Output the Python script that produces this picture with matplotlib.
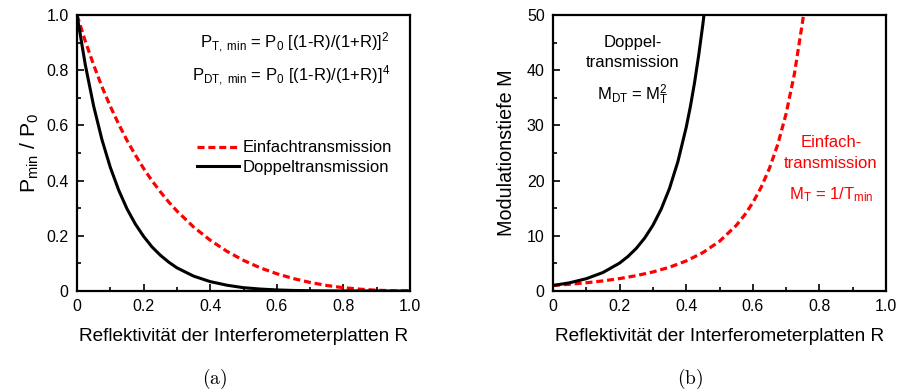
import numpy as np
import matplotlib
matplotlib.use("Agg")
from matplotlib import pyplot as plt
from matplotlib.ticker import MultipleLocator, FixedFormatter, FixedLocator

plt.rcParams['font.family'] = 'Liberation Sans'
plt.rcParams['mathtext.fontset'] = 'custom'
plt.rcParams['mathtext.rm'] = 'Liberation Sans'
plt.rcParams['mathtext.it'] = 'Liberation Sans'
plt.rcParams['mathtext.bf'] = 'Liberation Sans:bold'

# panel (a): normalised minimum power vs reflectivity
r_a = [0, 0.025, 0.05, 0.075, 0.1, 0.125, 0.15, 0.175, 0.2, 0.225, 0.25, 0.275,
       0.3, 0.35, 0.4, 0.45, 0.5, 0.55, 0.6, 0.65, 0.7, 0.75, 0.8, 0.85, 0.9, 0.95, 1.0]
p_single = [1.0, 0.905, 0.819, 0.740, 0.669, 0.605, 0.546, 0.493, 0.444, 0.400, 0.360, 0.323,
            0.290, 0.232, 0.184, 0.144, 0.111, 0.084, 0.0625, 0.045, 0.031, 0.020, 0.012, 0.0066,
            0.0028, 0.0007, 0.0]
p_double = [1.0, 0.819, 0.670, 0.548, 0.448, 0.366, 0.298, 0.243, 0.198, 0.160, 0.130, 0.105,
            0.084, 0.054, 0.034, 0.021, 0.012, 0.0071, 0.0039, 0.002, 0.001, 0.0004, 0.0002, 0.0,
            0.0, 0.0, 0.0]

# panel (b): modulation depth vs reflectivity
r_single = [0, 0.05, 0.1, 0.15, 0.2, 0.25, 0.3, 0.35, 0.4, 0.45, 0.5, 0.55, 0.575,
            0.6, 0.625, 0.65, 0.675, 0.7, 0.725, 0.75, 0.76]
m_single = [1.0, 1.22, 1.49, 1.83, 2.25, 2.78, 3.45, 4.31, 5.44, 6.95, 9.0, 11.86, 13.73,
            16.0, 18.78, 22.22, 26.56, 32.11, 39.35, 49.0, 53.78]
r_double = [0, 0.05, 0.1, 0.15, 0.2, 0.225, 0.25, 0.275, 0.3, 0.325, 0.35, 0.375, 0.4,
            0.4125, 0.425, 0.4375, 0.45, 0.46]
m_double = [1.0, 1.49, 2.23, 3.35, 5.06, 6.25, 7.72, 9.57, 11.90, 14.85, 18.61, 23.43, 29.64,
            33.4, 37.72, 42.7, 48.30, 53.44]

x_ticks = [0, 0.2, 0.4, 0.6, 0.8, 1.0]
x_ticklabels = ['0', '0.2', '0.4', '0.6', '0.8', '1.0']
ya_ticks = [0, 0.2, 0.4, 0.6, 0.8, 1.0]
ya_ticklabels = ['0', '0.2', '0.4', '0.6', '0.8', '1.0']
yb_ticks = [0, 10, 20, 30, 40, 50]

red = '#ff0000'
fs_tick = 11.5
fs_text = 12
fs_label = 13.7

fig = plt.figure(figsize=(8.99, 3.92), dpi=100)
ax_a = fig.add_axes([77/899, 1-291/392, 333/899, 276/392])
ax_b = fig.add_axes([553/899, 1-291/392, 333/899, 276/392])


def style_axis(ax):
    for sp in ax.spines.values():
        sp.set_linewidth(1.6)
    ax.tick_params(which='both', direction='in', top=False, right=False,
                   labelsize=fs_tick, width=1.2, pad=6)
    ax.tick_params(which='major', length=5)
    ax.tick_params(which='minor', length=3)
    ax.set_xlim(0, 1)
    ax.xaxis.set_major_locator(FixedLocator(x_ticks))
    ax.xaxis.set_major_formatter(FixedFormatter(x_ticklabels))
    ax.xaxis.set_minor_locator(MultipleLocator(0.1))
    ax.set_xlabel('Reflektivität der Interferometerplatten R', fontsize=fs_label, labelpad=10)


# ---- (a)
ax_a.plot(r_a, p_single, color=red, lw=2.3, ls=(0, (2.2, 1.2)), label='Einfachtransmission')
ax_a.plot(r_a, p_double, color='black', lw=2.2, label='Doppeltransmission')
style_axis(ax_a)
ax_a.set_ylim(0, 1)
ax_a.yaxis.set_major_locator(FixedLocator(ya_ticks))
ax_a.yaxis.set_major_formatter(FixedFormatter(ya_ticklabels))
ax_a.yaxis.set_minor_locator(MultipleLocator(0.1))
ax_a.set_ylabel(r'$\mathrm{P_{min}\ /\ P_0}$', fontsize=fs_label + 1.5, labelpad=4)
ax_a.text(0.94, 0.90, r'$\mathrm{P_{T,\ min}}$ = $\mathrm{P_0}$ [(1-R)/(1+R)]$^\mathrm{2}$',
          transform=ax_a.transAxes, ha='right', va='center', fontsize=fs_text)
ax_a.text(0.94, 0.78, r'$\mathrm{P_{DT,\ min}}$ = $\mathrm{P_0}$ [(1-R)/(1+R)]$^\mathrm{4}$',
          transform=ax_a.transAxes, ha='right', va='center', fontsize=fs_text)
ax_a.legend(loc='upper left', bbox_to_anchor=(0.34, 0.57), frameon=False,
            fontsize=fs_text, handlelength=2.5, handletextpad=0.25,
            labelspacing=0.25, borderaxespad=0)

# ---- (b)
ax_b.plot(r_single, m_single, color=red, lw=2.3, ls=(0, (2.2, 1.2)))
ax_b.plot(r_double, m_double, color='black', lw=2.2)
style_axis(ax_b)
ax_b.set_ylim(0, 50)
ax_b.yaxis.set_major_locator(FixedLocator(yb_ticks))
ax_b.yaxis.set_minor_locator(MultipleLocator(5))
ax_b.set_ylabel('Modulationstiefe M', fontsize=fs_label + 0.5, labelpad=8)
ax_b.text(0.24, 0.865, 'Doppel-\ntransmission', transform=ax_b.transAxes,
          ha='center', va='center', fontsize=fs_text, linespacing=1.45)
ax_b.text(0.24, 0.71, r'$\mathrm{M_{DT}}$ = $\mathrm{M_T^2}$', transform=ax_b.transAxes,
          ha='center', va='center', fontsize=fs_text)
ax_b.text(0.835, 0.50, 'Einfach-\ntransmission', transform=ax_b.transAxes,
          ha='center', va='center', fontsize=fs_text, linespacing=1.45, color=red)
ax_b.text(0.835, 0.35, r'$\mathrm{M_T}$ = 1/$\mathrm{T_{min}}$', transform=ax_b.transAxes,
          ha='center', va='center', fontsize=fs_text, color=red)

# captions
fig.text(215/899, 1-379/392, r'$\mathrm{(a)}$', ha='center', va='center', fontsize=14,
         math_fontfamily='cm')
fig.text(690/899, 1-379/392, r'$\mathrm{(b)}$', ha='center', va='center', fontsize=14,
         math_fontfamily='cm')

fig.savefig('out.png', dpi=100)
